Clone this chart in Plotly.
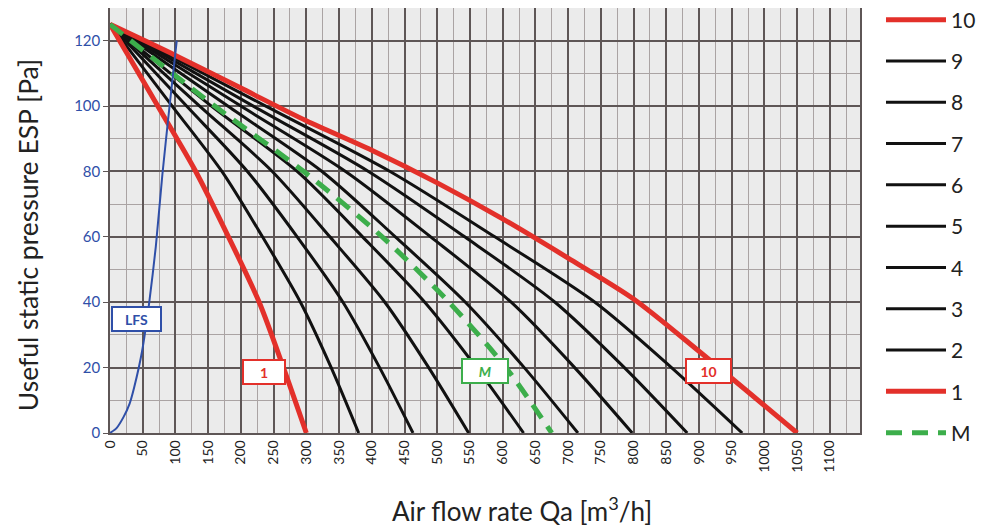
import plotly.graph_objects as go

# pressure levels (Pa) shared by the fan curves
esp_levels = [125, 100, 80, 60, 40, 20, 0]

# air flow (m3/h) at each pressure level, speeds 1..9
speed_flows = {
    "1": [0, 73, 131, 181, 228, 265, 300],
    "2": [0, 95, 171, 233, 291, 338, 380],
    "3": [0, 117, 210, 286, 356, 412, 463],
    "4": [0, 137, 248, 336, 420, 487, 548],
    "5": [0, 155, 286, 386, 481, 560, 632],
    "6": [0, 180, 324, 436, 543, 633, 715],
    "7": [0, 200, 360, 490, 613, 710, 798],
    "8": [0, 219, 395, 542, 680, 786, 882],
    "9": [0, 238, 428, 588, 741, 858, 966],
}
m_flow = [0, 160, 296, 416, 518, 605, 675]

# speed 10 has a few more readings
s10_flow = [0, 100, 200, 300, 400, 500, 600, 700, 800, 900, 1050]
s10_esp = [125, 115.5, 105.5, 95.5, 86.5, 76.5, 65.5, 53.5, 41, 25, 0]

# LFS curve
lfs_flow = [0, 10, 21, 30, 37, 49, 60, 70, 80, 91, 102]
lfs_esp = [0, 1.5, 5, 9, 14, 25, 40, 57, 79, 100, 120]

x_ticks = list(range(0, 1101, 50))
y_ticks = list(range(0, 121, 20))

RED = "#e3302a"
GREEN = "#3cae4b"
BLUE = "#2f4fa8"
GRID = "#5e5656"
FONT = "Lato, sans-serif"

fig = go.Figure()

# black curves first so the red ones sit on top
for name in ["2", "3", "4", "5", "6", "7", "8", "9"]:
    fig.add_trace(go.Scatter(
        x=speed_flows[name], y=esp_levels, mode="lines", name=name,
        line=dict(color="#111111", width=3, shape="spline", smoothing=0.8),
        legendgroup=name, legendrank=20 - int(name),
    ))

fig.add_trace(go.Scatter(
    x=speed_flows["1"], y=esp_levels, mode="lines", name="1",
    line=dict(color=RED, width=5, shape="spline", smoothing=0.8),
    legendgroup="1", legendrank=19,
))
fig.add_trace(go.Scatter(
    x=s10_flow, y=s10_esp, mode="lines", name="10",
    line=dict(color=RED, width=5, shape="spline", smoothing=0.8),
    legendgroup="10", legendrank=10,
))
fig.add_trace(go.Scatter(
    x=m_flow, y=esp_levels, mode="lines", name="M",
    line=dict(color=GREEN, width=5, dash="16px,10px", shape="spline", smoothing=0.8),
    legendgroup="M", legendrank=21,
))
fig.add_trace(go.Scatter(
    x=lfs_flow, y=lfs_esp, mode="lines", name="LFS", showlegend=False,
    line=dict(color=BLUE, width=2, shape="spline", smoothing=0.6),
))

# boxed curve labels
labels = [
    ("LFS", 40, 35, BLUE, 41),
    ("1", 235, 18.6, RED, 34),
    ("<i>M</i>", 573, 19, GREEN, 38),
    ("10", 914, 19, RED, 37),
]
for text, x, y, col, w in labels:
    fig.add_annotation(
        x=x, y=y, text="<b>" + text + "</b>", showarrow=False,
        font=dict(family=FONT, size=14, color=col),
        bgcolor="white", bordercolor=col, borderwidth=2, borderpad=3,
        width=w, height=16,
    )

fig.add_annotation(
    text="Air flow rate Qa [m<sup>3</sup>/h]", xref="paper", yref="paper",
    x=0.549, y=-0.181, showarrow=False, xanchor="center", yanchor="middle",
    font=dict(family=FONT, size=26, color="#222222"),
)
fig.add_annotation(
    text="Useful static pressure ESP [Pa]", xref="paper", yref="paper",
    x=-0.109, y=0.466, showarrow=False, textangle=-90,
    xanchor="center", yanchor="middle",
    font=dict(family=FONT, size=26.5, color="#222222"),
)

# the page body adds an 8px margin, so the figure is sized to fit inside it
fig.update_layout(
    width=983, height=522,
    margin=dict(l=102, r=131, t=0, b=97, autoexpand=False),
    paper_bgcolor="white", plot_bgcolor="#ebebeb",
    font=dict(family=FONT, color="#222222"),
    legend=dict(
        x=1.028, y=1.02, xanchor="left", yanchor="top",
        font=dict(size=21, color="#222222"),
        tracegroupgap=11, itemwidth=60, bgcolor="rgba(0,0,0,0)",
        maxheight=520,
    ),
    xaxis=dict(
        range=[0, 1146], tickvals=x_ticks, tickangle=-90,
        tickfont=dict(size=14, color="#222222"),
        showgrid=True, gridcolor=GRID, gridwidth=1.5,
        minor=dict(dtick=25, showgrid=True, gridcolor="#aaa3a3", gridwidth=1),
        showline=True, linecolor=GRID, linewidth=1.5, mirror=True,
        zeroline=False,
    ),
    yaxis=dict(
        range=[0, 130], tickvals=y_ticks,
        tickfont=dict(size=15, color=BLUE),
        ticks="outside", ticklen=5, tickcolor=GRID,
        showgrid=True, gridcolor=GRID, gridwidth=1.5,
        minor=dict(dtick=10, showgrid=True, gridcolor="#aaa3a3", gridwidth=1),
        showline=True, linecolor=GRID, linewidth=1.5, mirror=True,
        zeroline=False,
    ),
)

fig.write_html("out.html")
